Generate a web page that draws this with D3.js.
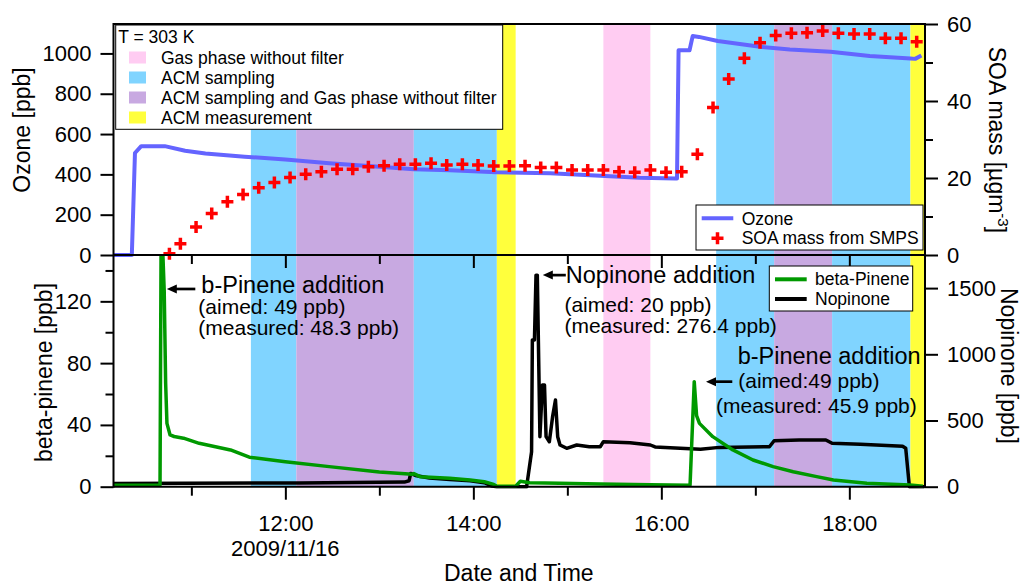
<!DOCTYPE html>
<html>
<head>
<meta charset="utf-8">
<script src="https://cdn.jsdelivr.net/npm/d3@7"></script>
<style>
  html, body { margin: 0; padding: 0; background: #fff; }
  svg { display: block; font-family: "Liberation Sans", Arial, Helvetica, sans-serif; }
</style>
</head>
<body>
<svg id="chart" width="1021" height="586"></svg>
<script>
// ---------- data ----------
const runDate = "2009-11-16";
const dateLabel = "2009/11/16";

// experiment phases (shaded periods)
const phaseKinds  = ["acm", "both", "acm", "meas", "gas", "acm", "both", "acm", "meas"];
const phaseStarts = ["11:38", "12:07", "13:22", "14:15", "15:23", "16:35", "17:12", "17:49", "18:39"];
const phaseEnds   = ["12:07", "13:22", "14:15", "14:27", "15:53", "17:12", "17:49", "18:39", "18:49"];

const legendKeys   = ["gas", "acm", "both", "meas"];
const legendLabels = ["Gas phase without filter", "ACM sampling",
                      "ACM sampling and Gas phase without filter", "ACM measurement"];

// ozone [ppb]
const ozoneTimes  = ["10:10", "10:22", "10:24", "10:28", "10:43", "10:56", "11:09", "11:34", "12:00", "12:28",
                     "13:00", "13:22", "13:45", "14:15", "14:49", "15:21", "15:46", "16:09", "16:10", "16:11",
                     "16:18", "16:20", "16:24", "16:36", "17:03", "17:22", "17:48", "18:13", "18:39", "18:42", "18:46"];
const ozoneValues = [0, 0, 506, 540, 540, 517, 504, 488, 474, 455,
                     438, 426, 421, 410, 405, 393, 383, 380, 380, 1016,
                     1016, 1086, 1082, 1062, 1033, 1020, 1008, 987, 975, 973, 990];

// SOA mass from SMPS [ug m-3]
const soaTimes  = ["10:46", "10:53", "11:03", "11:13", "11:23", "11:33", "11:43", "11:53", "12:03", "12:13",
                   "12:23", "12:33", "12:43", "12:53", "13:03", "13:13", "13:23", "13:33", "13:43", "13:53",
                   "14:03", "14:13", "14:23", "14:33", "14:43", "14:53", "15:03", "15:13", "15:23", "15:33",
                   "15:43", "15:53", "16:03", "16:13", "16:23", "16:33", "16:43", "16:53", "17:03", "17:13",
                   "17:23", "17:33", "17:43", "17:53", "18:03", "18:13", "18:23", "18:33", "18:43"];
const soaValues = [0.3, 2.9, 7.3, 10.8, 13.8, 15.7, 17.5, 18.8, 20.1, 21.0,
                   21.6, 22.3, 22.3, 22.9, 23.2, 23.6, 23.6, 23.8, 23.4, 23.6,
                   23.4, 23.1, 23.1, 23.2, 22.7, 22.7, 22.1, 22.1, 22.1, 21.6,
                   21.5, 22.1, 21.5, 21.6, 26.2, 38.3, 45.7, 51.1, 55.1, 57.0,
                   57.6, 57.7, 58.2, 57.6, 57.4, 57.4, 56.3, 56.3, 55.4];

// beta-pinene [ppb]
const pineneTimes  = ["10:10", "10:40:00", "10:40:40", "10:41:50", "10:42:40", "10:43:35", "10:44:25", "10:46:25",
                      "10:49", "10:55", "11:05", "11:25", "11:37", "12:00", "12:28", "13:00", "13:21", "13:22",
                      "13:26", "13:45", "13:58", "14:07", "14:13", "14:15", "14:27", "14:30", "14:36", "14:55",
                      "15:21", "15:53", "16:18:20", "16:21:00", "16:22:30", "16:24:20", "16:32:50", "16:45:40",
                      "16:58:30", "17:11:20", "17:24:10", "17:39:10", "17:49:50", "18:11:10", "18:38:50", "18:47"];
const pineneValues = [1, 1, 155, 150, 127, 67, 41, 33.5,
                      32.5, 31.4, 28.1, 23.8, 19.1, 16.2, 13.0, 9.5, 8.0, 8.5,
                      6.5, 5.4, 4.3, 3.2, 1.5, 0.3, 0.3, 3.5, 2.6, 2.2,
                      1.8, 1.3, 1.0, 68, 46, 41, 32.4, 23.8,
                      17.3, 13, 9.7, 6.5, 4.3, 2.2, 1.1, 0.3];

// nopinone [ppb]
const nopinoneTimes  = ["10:10", "12:09", "13:16", "13:19", "13:20", "13:23", "13:32", "13:45", "13:58", "14:07",
                        "14:12", "14:15", "14:34", "14:37:10", "14:37:40", "14:39:00", "14:40:00", "14:40:50",
                        "14:42:30", "14:44:05", "14:45:25", "14:46:25", "14:48:30", "14:50:35", "14:52:25",
                        "14:53:50", "14:55:20", "14:59:35", "15:06", "15:14", "15:21", "15:23", "15:40", "15:53",
                        "15:56", "16:12", "16:25", "16:37", "17:09", "17:12", "17:28", "17:45", "17:49", "18:07",
                        "18:34", "18:36", "18:38:20", "18:48"];
const nopinoneValues = [25, 28, 35, 45, 100, 85, 65, 55, 45, 30,
                        5, 0, 0, 264, 1108, 1108, 1598, 1598,
                        378, 768, 768, 378, 340, 529, 655,
                        378, 315, 290, 315, 302, 302, 340, 332, 315,
                        300, 290, 282, 297, 302, 347, 353, 353, 328, 320,
                        305, 290, 0, 0];

// axis ticks
const xMajorTicks = ["12:00", "14:00", "16:00", "18:00"];
const xMinorTicks = ["11:00", "13:00", "15:00", "17:00"];
const ozoneTicks = [0, 200, 400, 600, 800, 1000];
const soaTicks = [0, 20, 40, 60];
const soaMinorTicks = [10, 30, 50];
const pineneTicks = [0, 40, 80, 120];
const pineneMinorTicks = [20, 60, 100, 140];
const nopinoneTicks = [0, 500, 1000, 1500];

// ---------- styles ----------
const phaseColor = { gas: "#FFCCF2", acm: "#80D4FF", both: "#C8A9E1", meas: "#FFFF3C" };
const COL = { ozone: "#6464FF", soa: "#FF0000", pinene: "#009900", nopinone: "#000000" };
const FONT_TICK = 22, FONT_TITLE = 23, FONT_LEG = 17.5, FONT_NOTE = 23.5, FONT_SUB = 21;

// ---------- layout ----------
const L = 113.5, R = 925, TOP = 24, MID = 255, BOT = 486.7;

const parseFull = d3.timeParse("%Y-%m-%d %H:%M:%S");
const T = s => parseFull(runDate + " " + (s.length === 5 ? s + ":00" : s));

const x = d3.scaleTime().domain([T("10:10:18"), T("18:48:18")]).range([L, R]);
const yOzone = d3.scaleLinear().domain([0, 1146]).range([MID, TOP]);
const ySoa = d3.scaleLinear().domain([0, 60]).range([MID, TOP]);
const yPinene = d3.scaleLinear().domain([0, 150]).range([BOT, MID]);
const yNopinone = d3.scaleLinear().domain([0, 1750]).range([BOT, MID]);

const svg = d3.select("#chart");

const defs = svg.append("defs");
defs.append("clipPath").attr("id", "clip-all").append("rect")
  .attr("x", L).attr("y", TOP).attr("width", R - L).attr("height", BOT - TOP);
defs.append("clipPath").attr("id", "clip-top").append("rect")
  .attr("x", L).attr("y", TOP).attr("width", R - L).attr("height", MID - TOP + 2);
defs.append("clipPath").attr("id", "clip-bot").append("rect")
  .attr("x", L).attr("y", MID).attr("width", R - L).attr("height", BOT - MID + 2);

// shaded phases spanning both panels
svg.append("g").attr("clip-path", "url(#clip-all)")
  .selectAll("rect").data(d3.range(phaseKinds.length)).join("rect")
  .attr("x", i => x(T(phaseStarts[i])))
  .attr("width", i => x(T(phaseEnds[i])) - x(T(phaseStarts[i])))
  .attr("y", TOP).attr("height", BOT - TOP)
  .attr("fill", i => phaseColor[phaseKinds[i]]);

const pts = (times, values) => times.map((t, i) => ({ t: T(t), v: values[i] }));

// top panel: ozone line
svg.append("path").datum(pts(ozoneTimes, ozoneValues))
  .attr("clip-path", "url(#clip-top)")
  .attr("fill", "none").attr("stroke", COL.ozone).attr("stroke-width", 4)
  .attr("stroke-linejoin", "round")
  .attr("d", d3.line().x(d => x(d.t)).y(d => yOzone(d.v)));

// bottom panel: nopinone then beta-pinene
svg.append("path").datum(pts(nopinoneTimes, nopinoneValues))
  .attr("clip-path", "url(#clip-bot)")
  .attr("fill", "none").attr("stroke", COL.nopinone).attr("stroke-width", 3.5)
  .attr("stroke-linejoin", "round")
  .attr("d", d3.line().x(d => x(d.t)).y(d => yNopinone(d.v)));

svg.append("path").datum(pts(pineneTimes, pineneValues))
  .attr("clip-path", "url(#clip-bot)")
  .attr("fill", "none").attr("stroke", COL.pinene).attr("stroke-width", 3.5)
  .attr("stroke-linejoin", "round")
  .attr("d", d3.line().x(d => x(d.t)).y(d => yPinene(d.v)));

// SOA crosses
const crossPath = "M-6,0H6M0,-6V6";
svg.append("g").selectAll("path").data(pts(soaTimes, soaValues)).join("path")
  .attr("transform", d => `translate(${x(d.t)},${ySoa(d.v)})`)
  .attr("d", crossPath).attr("stroke", COL.soa).attr("stroke-width", 3.5).attr("fill", "none");

// ---------- axes ----------
function styleAxis(g, fontSize) {
  g.attr("font-family", null).attr("font-size", fontSize);
  g.select(".domain").remove();
  g.selectAll(".tick line").attr("stroke", "#000").attr("stroke-width", 2);
  g.selectAll(".tick text").attr("fill", "#000");
}

function xAxis(y, withLabels) {
  svg.append("g").attr("transform", `translate(0,${y})`)
    .call(d3.axisBottom(x).tickValues(xMinorTicks.map(T)).tickSize(9).tickFormat(() => ""))
    .call(g => styleAxis(g, FONT_TICK));
  svg.append("g").attr("transform", `translate(0,${y})`)
    .call(d3.axisBottom(x).tickValues(xMajorTicks.map(T)).tickSize(13)
      .tickFormat(withLabels ? d3.timeFormat("%H:%M") : () => ""))
    .call(g => styleAxis(g, FONT_TICK))
    .call(g => g.selectAll(".tick text").attr("y", 44.3).attr("dy", 0));
}
xAxis(MID, false);
xAxis(BOT, true);

function yAxis(makeAxis, xPos, major, minor) {
  if (minor) {
    svg.append("g").attr("transform", `translate(${xPos},0)`)
      .call(makeAxis().tickValues(minor).tickSize(8).tickFormat(() => ""))
      .call(g => styleAxis(g, FONT_TICK));
  }
  svg.append("g").attr("transform", `translate(${xPos},0)`)
    .call(makeAxis().tickValues(major).tickSize(13).tickPadding(9).tickFormat(d3.format("d")))
    .call(g => styleAxis(g, FONT_TICK));
}
yAxis(() => d3.axisLeft(yOzone), L, ozoneTicks, null);
yAxis(() => d3.axisRight(ySoa), R, soaTicks, soaMinorTicks);
yAxis(() => d3.axisLeft(yPinene), L, pineneTicks, pineneMinorTicks);
yAxis(() => d3.axisRight(yNopinone), R, nopinoneTicks, null);

// frame
const frame = svg.append("g").attr("stroke", "#000").attr("stroke-width", 2).attr("fill", "none");
frame.append("line").attr("x1", L).attr("x2", R).attr("y1", TOP).attr("y2", TOP);
frame.append("line").attr("x1", L).attr("x2", R).attr("y1", MID).attr("y2", MID);
frame.append("line").attr("x1", L).attr("x2", R).attr("y1", BOT).attr("y2", BOT);
frame.append("line").attr("x1", L).attr("x2", L).attr("y1", TOP - 1).attr("y2", BOT + 1);
frame.append("line").attr("x1", R).attr("x2", R).attr("y1", TOP - 1).attr("y2", BOT + 1);

// date line under the first labelled hour
svg.append("text").attr("x", x(T(xMajorTicks[0]))).attr("y", 555.5)
  .attr("text-anchor", "middle").attr("font-size", FONT_TICK).text(dateLabel);

// ---------- axis titles ----------
svg.append("text").attr("transform", "translate(30,130) rotate(-90)")
  .attr("text-anchor", "middle").attr("font-size", FONT_TITLE).text("Ozone [ppb]");
svg.append("text").attr("transform", "translate(52,372.5) rotate(-90)")
  .attr("text-anchor", "middle").attr("font-size", FONT_TITLE).text("beta-pinene [ppb]");
const soaTitle = svg.append("text").attr("transform", "translate(989,46.7) rotate(90)")
  .attr("font-size", FONT_TITLE);
soaTitle.append("tspan").text("SOA mass [\u00B5gm");
soaTitle.append("tspan").attr("font-size", 15).attr("dy", -9).text("-3");
soaTitle.append("tspan").attr("dy", 9).text("]");
svg.append("text").attr("transform", "translate(1001,288) rotate(90)")
  .attr("font-size", FONT_TITLE).text("Nopinone [ppb]");
svg.append("text").attr("x", 518.8).attr("y", 581)
  .attr("text-anchor", "middle").attr("font-size", FONT_TITLE).text("Date and Time");

// ---------- legends ----------
// phase legend
const lg1 = svg.append("g").attr("font-size", FONT_LEG);
lg1.append("rect").attr("x", 115.7).attr("y", 25).attr("width", 387).attr("height", 104.3)
  .attr("fill", "#fff").attr("stroke", "#000").attr("stroke-width", 1);
lg1.append("text").attr("x", 118.3).attr("y", 43.3).text("T = 303 K");
legendKeys.forEach((k, i) => {
  lg1.append("rect").attr("x", 129).attr("y", 51.5 + 20 * i).attr("width", 17).attr("height", 12)
    .attr("fill", phaseColor[k]);
  lg1.append("text").attr("x", 161).attr("y", 63.5 + 20 * i).text(legendLabels[i]);
});

// top panel series legend
const lg2 = svg.append("g").attr("font-size", FONT_LEG);
lg2.append("rect").attr("x", 696).attr("y", 205).attr("width", 227).attr("height", 45)
  .attr("fill", "#fff").attr("stroke", "#000").attr("stroke-width", 1);
lg2.append("line").attr("x1", 701.7).attr("x2", 733.3).attr("y1", 218.3).attr("y2", 218.3)
  .attr("stroke", COL.ozone).attr("stroke-width", 4);
lg2.append("text").attr("x", 741.7).attr("y", 224.5).text("Ozone");
lg2.append("path").attr("transform", "translate(717.5,238.3)").attr("d", crossPath)
  .attr("stroke", COL.soa).attr("stroke-width", 3.5);
lg2.append("text").attr("x", 741.7).attr("y", 244.3).text("SOA mass from SMPS");

// bottom panel series legend
const lg3 = svg.append("g").attr("font-size", FONT_LEG);
lg3.append("rect").attr("x", 769.3).attr("y", 266).attr("width", 143.4).attr("height", 45)
  .attr("fill", "#fff").attr("stroke", "#000").attr("stroke-width", 1);
lg3.append("line").attr("x1", 775).attr("x2", 806.7).attr("y1", 279.3).attr("y2", 279.3)
  .attr("stroke", COL.pinene).attr("stroke-width", 4);
lg3.append("text").attr("x", 815).attr("y", 285.3).text("beta-Pinene");
lg3.append("line").attr("x1", 775).attr("x2", 806.7).attr("y1", 299).attr("y2", 299)
  .attr("stroke", COL.nopinone).attr("stroke-width", 4);
lg3.append("text").attr("x", 815).attr("y", 305).text("Nopinone");

// ---------- annotations ----------
function arrowLeft(tx, ty, len) {
  svg.append("line").attr("x1", tx + 6).attr("x2", tx + len).attr("y1", ty).attr("y2", ty)
    .attr("stroke", "#000").attr("stroke-width", 2.7);
  svg.append("path").attr("d", `M${tx},${ty}L${tx + 10},${ty - 4.5}L${tx + 10},${ty + 4.5}Z`)
    .attr("fill", "#000");
}
function note(xp, yp, size, str) {
  svg.append("text").attr("x", xp).attr("y", yp).attr("font-size", size).text(str);
}

// first beta-pinene addition
{
  const tx = x(T("10:44:20")), ty = yPinene(128);
  arrowLeft(tx, ty, 28.5);
  note(tx + 34.5, ty + 4, FONT_NOTE, "b-Pinene addition");
  note(tx + 31.5, ty + 25, FONT_SUB, "(aimed: 49 ppb)");
  note(tx + 31.5, ty + 46.5, FONT_SUB, "(measured: 48.3 ppb)");
}
// nopinone addition
{
  const tx = x(T("14:44:20")), ty = yNopinone(1598);
  arrowLeft(tx, ty, 23);
  note(tx + 23, ty + 8.3, FONT_NOTE, "Nopinone addition");
  note(tx + 21.6, ty + 36.7, FONT_SUB, "(aimed: 20 ppb)");
  note(tx + 21.6, ty + 58.3, FONT_SUB, "(measured: 276.4 ppb)");
}
// second beta-pinene addition
{
  const tx = x(T("16:28:30")), ty = yPinene(68);
  arrowLeft(tx, ty, 26.3);
  note(tx + 31.7, ty - 18, FONT_NOTE, "b-Pinene addition");
  note(tx + 32.3, ty + 6, FONT_SUB, "(aimed:49 ppb)");
  note(tx + 10, ty + 31, FONT_SUB, "(measured: 45.9 ppb)");
}
</script>
</body>
</html>
